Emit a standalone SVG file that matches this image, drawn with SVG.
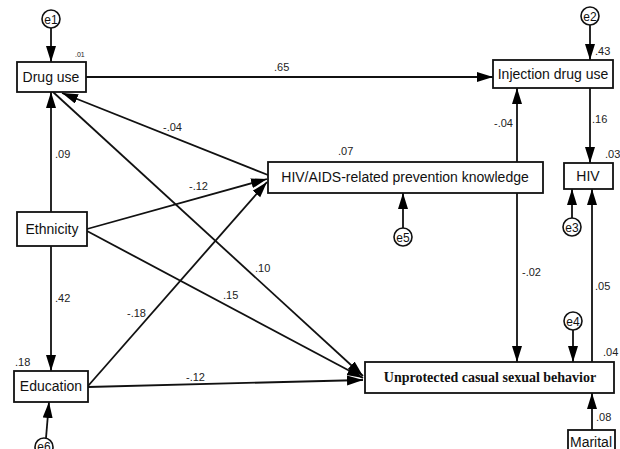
<svg xmlns="http://www.w3.org/2000/svg" width="620" height="449" viewBox="0 0 620 449">
<defs>
<marker id="ah" markerUnits="userSpaceOnUse" markerWidth="17" markerHeight="11" refX="16" refY="5" orient="auto">
<path d="M0,0 L16,5 L0,10 z" fill="#000"/>
</marker>
<style>
.box{fill:#fff;stroke:#111;stroke-width:1.8}
.err{fill:#fff;stroke:#111;stroke-width:1.6}
.lbl{font-family:"Liberation Sans",Arial,sans-serif;font-size:14px;fill:#111;text-anchor:middle}
.bold{font-family:"Liberation Serif","Times New Roman",serif;font-size:14px;font-weight:bold;fill:#111;text-anchor:middle}
.elbl{font-family:"Liberation Sans",Arial,sans-serif;font-size:12px;fill:#111;text-anchor:middle}
.coef{font-family:"Liberation Sans",Arial,sans-serif;font-size:11px;fill:#222}
.small{font-family:"Liberation Sans",Arial,sans-serif;font-size:7px;fill:#222}
.c line{stroke:#111;stroke-width:1.8;marker-end:url(#ah)}
</style>
</defs>
<rect width="620" height="449" fill="#fff"/>
<g id="connectors" class="c">
<line x1="51" y1="28" x2="51" y2="62"/>
<line x1="86" y1="77" x2="493" y2="77"/>
<line x1="590" y1="25" x2="590" y2="60"/>
<line x1="590" y1="88" x2="590" y2="163"/>
<line x1="517" y1="162" x2="517" y2="88"/>
<line x1="517" y1="193" x2="517" y2="362"/>
<line x1="403" y1="228" x2="403" y2="193"/>
<line x1="572" y1="218" x2="572" y2="189"/>
<line x1="592" y1="362" x2="592" y2="189"/>
<line x1="573" y1="330" x2="573" y2="362"/>
<line x1="592" y1="430" x2="592" y2="393"/>
<line x1="51" y1="212" x2="51" y2="92"/>
<line x1="51" y1="246" x2="51" y2="371"/>
<line x1="46" y1="438" x2="49" y2="402"/>
<line x1="87" y1="229" x2="267" y2="179"/>
<line x1="87" y1="231" x2="363" y2="378"/>
<line x1="268" y1="175" x2="62" y2="93"/>
<line x1="53" y1="92" x2="363" y2="376"/>
<line x1="88" y1="386" x2="267" y2="182"/>
<line x1="88" y1="387" x2="363" y2="380"/>
</g>
<g id="labels">
<text class="small" x="75" y="57">.01</text>
<text class="coef" x="274" y="71">.65</text>
<text class="coef" x="595" y="55">.43</text>
<text class="coef" x="592" y="123">.16</text>
<text class="coef" x="605" y="158">.03</text>
<text class="coef" x="494" y="127">-.04</text>
<text class="coef" x="338" y="155">.07</text>
<text class="coef" x="522" y="276">-.02</text>
<text class="coef" x="595" y="290">.05</text>
<text class="coef" x="603" y="356">.04</text>
<text class="coef" x="596" y="421">.08</text>
<text class="coef" x="55" y="158">.09</text>
<text class="coef" x="55" y="302">.42</text>
<text class="coef" x="15" y="366">.18</text>
<text class="coef" x="163" y="131">-.04</text>
<text class="coef" x="189" y="190">-.12</text>
<text class="coef" x="255" y="272">.10</text>
<text class="coef" x="223" y="299">.15</text>
<text class="coef" x="127" y="317">-.18</text>
<text class="coef" x="186" y="381">-.12</text>
</g>
<g id="e1"><circle class="err" cx="51" cy="19" r="9"/><text class="elbl" x="51" y="23.5">e1</text></g>
<g id="e2"><circle class="err" cx="590" cy="16" r="9"/><text class="elbl" x="590" y="20.5">e2</text></g>
<g id="e3"><circle class="err" cx="572" cy="227" r="9"/><text class="elbl" x="572" y="231.5">e3</text></g>
<g id="e4"><circle class="err" cx="573" cy="321" r="9"/><text class="elbl" x="573" y="325.5">e4</text></g>
<g id="e5"><circle class="err" cx="403" cy="237" r="9"/><text class="elbl" x="403" y="241.5">e5</text></g>
<g id="e6"><circle class="err" cx="44" cy="447" r="9"/><text class="elbl" x="44" y="451">e6</text></g>
<g id="drug-use"><rect class="box" x="17" y="62" width="69" height="30"/><text class="lbl" x="51" y="82">Drug use</text></g>
<g id="injection-drug-use"><rect class="box" x="493" y="60" width="120" height="28"/><text class="lbl" x="553" y="79">Injection drug use</text></g>
<g id="hiv"><rect class="box" x="564" y="163" width="49" height="26"/><text class="lbl" x="588" y="181">HIV</text></g>
<g id="knowledge"><rect class="box" x="268" y="162" width="275" height="31"/><text class="lbl" x="405" y="182">HIV/AIDS-related prevention knowledge</text></g>
<g id="ethnicity"><rect class="box" x="17" y="212" width="70" height="34"/><text class="lbl" x="52" y="234">Ethnicity</text></g>
<g id="education"><rect class="box" x="14" y="371" width="74" height="31"/><text class="lbl" x="51" y="391">Education</text></g>
<g id="unprotected"><rect class="box" x="365" y="362" width="249" height="31"/><text class="bold" x="490" y="382">Unprotected casual sexual behavior</text></g>
<g id="marital"><rect class="box" x="568" y="430" width="47" height="26"/><text class="lbl" x="591" y="447">Marital</text></g>
</svg>
